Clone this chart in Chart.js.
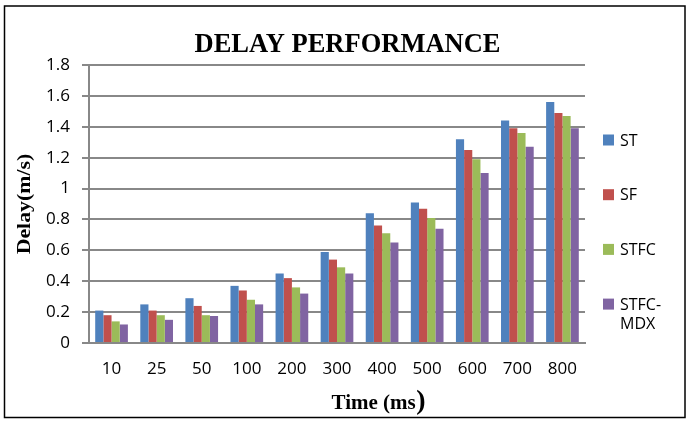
<!DOCTYPE html>
<html>
<head>
<meta charset="utf-8">
<script src="https://cdn.jsdelivr.net/npm/chart.js@4/dist/chart.umd.min.js"></script>
<style>
  html, body { margin: 0; padding: 0; background: #fff; }
  #wrap { width: 688px; height: 428px; position: relative; }
</style>
</head>
<body>
<div id="wrap"><canvas id="c" width="688" height="428"></canvas></div>
<script>
// Delay (m/s) per time setting for each scheme
const categories = ['10', '25', '50', '100', '200', '300', '400', '500', '600', '700', '800'];
const seriesNames = ['ST', 'SF', 'STFC', 'STFC-MDX'];
const stValues   = [0.21, 0.25, 0.29, 0.37, 0.45, 0.59, 0.84, 0.91, 1.32, 1.44, 1.56];
const sfValues   = [0.18, 0.21, 0.24, 0.34, 0.42, 0.54, 0.76, 0.87, 1.25, 1.39, 1.49];
const stfcValues = [0.14, 0.18, 0.18, 0.28, 0.36, 0.49, 0.71, 0.81, 1.19, 1.36, 1.47];
const mdxValues  = [0.12, 0.15, 0.175, 0.25, 0.32, 0.45, 0.65, 0.74, 1.10, 1.27, 1.39];
const yTicks = [0, 0.2, 0.4, 0.6, 0.8, 1, 1.2, 1.4, 1.6, 1.8];

const colors = ['#4F81BD', '#C0504D', '#9BBB59', '#8064A2'];
const gridColor = '#888888';
const sansFont = '"Open Sans", "Liberation Sans", sans-serif';
const serifFont = '"Liberation Serif", "Times New Roman", serif';

// Frame, titles and the side legend
const decorations = {
  id: 'decorations',
  afterDraw(chart) {
    const ctx = chart.ctx;
    ctx.save();

    // outer frame
    ctx.strokeStyle = '#000';
    ctx.lineWidth = 1.5;
    ctx.strokeRect(4.5, 6, 680.5, 411.5);

    // main title
    ctx.fillStyle = '#000';
    ctx.textAlign = 'center';
    ctx.textBaseline = 'alphabetic';
    ctx.save();
    ctx.translate(347.5, 51.5);
    ctx.scale(1, 1.07);
    ctx.font = 'bold 26.5px ' + serifFont;
    ctx.fillText('DELAY PERFORMANCE', 0, 0);
    ctx.restore();

    // x axis title, closing bracket set larger
    ctx.textAlign = 'left';
    ctx.font = 'bold 21px ' + serifFont;
    const xt = 'Time (ms';
    ctx.fillText(xt, 331.5, 408.5);
    const w = ctx.measureText(xt).width;
    ctx.font = 'bold 28px ' + serifFont;
    ctx.fillText(')', 331.5 + w + 0.5, 409);

    // y axis title
    ctx.save();
    ctx.translate(30, 204);
    ctx.rotate(-Math.PI / 2);
    ctx.scale(1.15, 1);
    ctx.textAlign = 'center';
    ctx.font = 'bold 19px ' + serifFont;
    ctx.fillText('Delay(m/s)', 0, 0);
    ctx.restore();

    // legend
    ctx.font = '16px ' + sansFont;
    ctx.textAlign = 'left';
    ctx.textBaseline = 'middle';
    const maxTextWidth = 52;
    chart.data.datasets.forEach((ds, i) => {
      const cy = 140 + i * 54.7;
      ctx.fillStyle = ds.backgroundColor;
      ctx.fillRect(603, cy - 5.5, 11, 11);
      ctx.fillStyle = '#000';
      let lines = [ds.label];
      if (ctx.measureText(ds.label).width > maxTextWidth && ds.label.includes('-')) {
        const k = ds.label.indexOf('-') + 1;
        lines = [ds.label.slice(0, k), ds.label.slice(k)];
      }
      lines.forEach((t, j) => ctx.fillText(t, 620, cy + 1 + j * 19));
    });

    ctx.restore();
  }
};

new Chart(document.getElementById('c'), {
  type: 'bar',
  data: {
    labels: categories,
    datasets: [stValues, sfValues, stfcValues, mdxValues].map((vals, i) => ({
      label: seriesNames[i],
      data: vals,
      backgroundColor: colors[i],
      borderWidth: 0,
      categoryPercentage: 0.725,
      barPercentage: 1.0
    }))
  },
  options: {
    responsive: false,
    animation: false,
    devicePixelRatio: 1,
    layout: { padding: { top: 65, right: 103, bottom: 0, left: 0 } },
    plugins: {
      legend: { display: false },
      title: { display: false },
      tooltip: { enabled: false }
    },
    scales: {
      x: {
        grid: { display: false, drawTicks: false },
        border: { display: true, color: gridColor, width: 2 },
        ticks: {
          color: '#000',
          font: { family: sansFont, size: 17 },
          padding: 16,
          maxRotation: 0,
          autoSkip: false
        },
        afterFit(scale) { scale.height = 85; }
      },
      y: {
        min: 0,
        max: 1.8,
        afterBuildTicks(scale) { scale.ticks = yTicks.map(v => ({ value: v })); },
        grid: { color: gridColor, lineWidth: 2, tickLength: 7, drawTicks: true },
        border: { display: true, color: gridColor, width: 2 },
        ticks: {
          color: '#000',
          font: { family: sansFont, size: 17 },
          padding: 12,
          callback: v => String(v)
        },
        afterFit(scale) { scale.width = 89; }
      }
    }
  },
  plugins: [decorations]
});
</script>
</body>
</html>
